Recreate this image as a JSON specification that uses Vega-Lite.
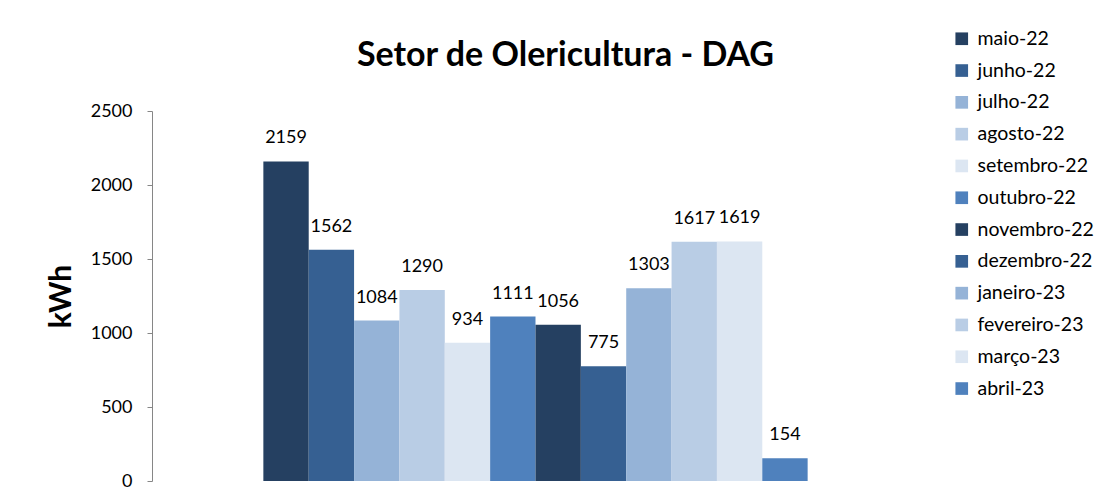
{
  "$schema": "https://vega.github.io/schema/vega-lite/v6.json",
  "width": 635,
  "height": 370,
  "autosize": {"type": "none"},
  "padding": {"left": 218, "top": 111, "right": 257, "bottom": 22},
  "background": "white",
  "config": {"view": {"stroke": null}, "font": "Lato"},
  "title": {
    "text": "Setor de Olericultura - DAG",
    "fontSize": 34,
    "fontWeight": "bold",
    "color": "black",
    "font": "Lato",
    "anchor": "middle",
    "frame": "group",
    "dx": 30,
    "offset": -71,
    "baseline": "alphabetic"
  },
  "data": {
    "values": [
      {"mes": "maio-22", "kwh": 2159},
      {"mes": "junho-22", "kwh": 1562},
      {"mes": "julho-22", "kwh": 1084},
      {"mes": "agosto-22", "kwh": 1290},
      {"mes": "setembro-22", "kwh": 934},
      {"mes": "outubro-22", "kwh": 1111},
      {"mes": "novembro-22", "kwh": 1056},
      {"mes": "dezembro-22", "kwh": 775},
      {"mes": "janeiro-23", "kwh": 1303},
      {"mes": "fevereiro-23", "kwh": 1617},
      {"mes": "março-23", "kwh": 1619},
      {"mes": "abril-23", "kwh": 154}
    ]
  },
  "encoding": {
    "x": {
      "field": "mes",
      "type": "nominal",
      "sort": null,
      "axis": null,
      "scale": {"paddingInner": 0, "paddingOuter": 1}
    },
    "y": {
      "field": "kwh",
      "type": "quantitative",
      "scale": {"domain": [0, 2500], "nice": false},
      "axis": {
        "title": "kWh",
        "offset": 66,
        "format": "d",
        "titleFontSize": 30,
        "titleFontWeight": "bold",
        "titleColor": "black",
        "titleFont": "Lato",
        "titlePadding": 14,
        "labelFont": "Lato",
        "labelFontSize": 18,
        "labelColor": "black",
        "labelPadding": 15,
        "tickSize": 5,
        "tickColor": "#868686",
        "domainColor": "#868686",
        "grid": false,
        "values": [0, 500, 1000, 1500, 2000, 2500]
      }
    }
  },
  "layer": [
    {
      "mark": {"type": "bar"},
      "encoding": {
        "color": {
          "field": "mes",
          "type": "nominal",
          "sort": null,
          "scale": {
            "domain": ["maio-22", "junho-22", "julho-22", "agosto-22", "setembro-22", "outubro-22", "novembro-22", "dezembro-22", "janeiro-23", "fevereiro-23", "março-23", "abril-23"],
            "range": ["#254061", "#366092", "#95B3D7", "#B9CDE5", "#DCE6F2", "#4F81BD", "#254061", "#366092", "#95B3D7", "#B9CDE5", "#DCE6F2", "#4F81BD"]
          },
          "legend": {
            "title": null,
            "orient": "none",
            "legendX": 734,
            "legendY": -82,
            "padding": 0,
            "symbolType": "square",
            "symbolSize": 160,
            "symbolStrokeWidth": 0,
            "labelFont": "Lato",
            "labelFontSize": 19.5,
            "labelColor": "black",
            "rowPadding": 10.8,
            "labelOffset": 6
          }
        }
      }
    },
    {
      "mark": {"type": "text", "baseline": "middle", "dy": -23, "fontSize": 18, "color": "black", "font": "Lato"},
      "encoding": {"text": {"field": "kwh", "type": "quantitative", "format": "d"}}
    }
  ]
}
